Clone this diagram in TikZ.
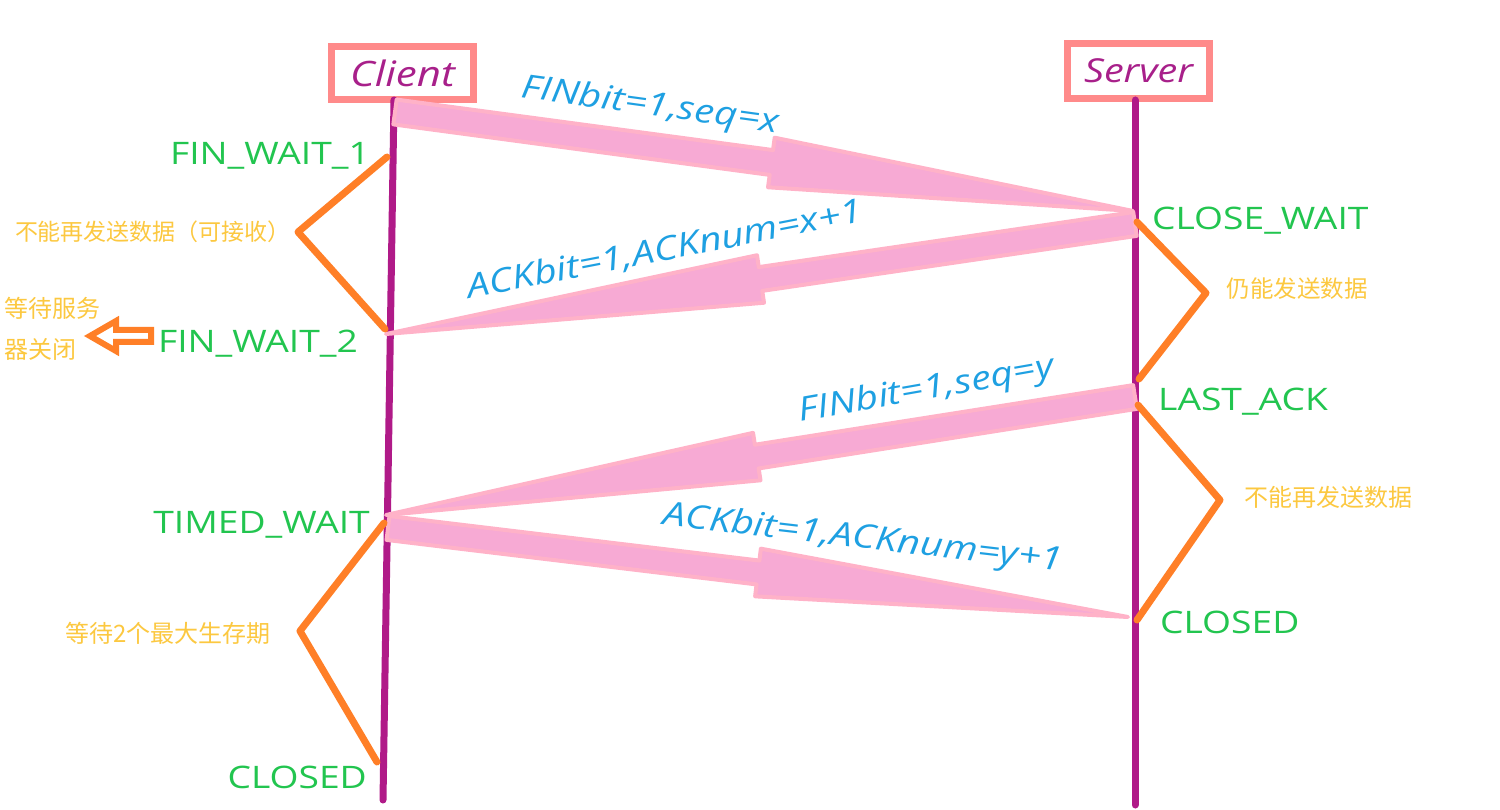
\documentclass[tikz,border=0pt]{standalone}
\usepackage{fontspec}
\setmainfont{Open Sans}
\newfontfamily\hand{Open Sans}[FakeStretch=1.2]
\newfontfamily\cjk{Noto Sans CJK SC}
\usetikzlibrary{calc}
\definecolor{lifec}{RGB}{176,26,136}
\definecolor{boxc}{RGB}{255,138,138}
\definecolor{namec}{RGB}{168,32,138}
\definecolor{statec}{RGB}{34,197,79}
\definecolor{msgc}{RGB}{30,160,226}
\definecolor{notec}{RGB}{252,200,64}
\definecolor{bracec}{RGB}{255,127,39}
\definecolor{afill}{RGB}{247,170,212}
\definecolor{aedge}{RGB}{255,178,200}
\tikzset{
  hostbox/.style={draw=boxc, line width=7pt, fill=white, minimum width=142pt, text=namec,
    font=\hand\itshape\fontsize{35}{35}\selectfont, inner sep=0pt},
  lifeline/.style={draw=lifec, line width=7pt, line cap=round},
  statelbl/.style={text=statec, font=\hand\fontsize{31}{31}\selectfont, inner sep=0pt},
  msglbl/.style={text=msgc, font=\hand\itshape\fontsize{33}{33}\selectfont, inner sep=0pt, anchor=base},
  notelbl/.style={text=notec, font=\cjk\fontsize{23}{23}\selectfont, inner sep=0pt},
  brace/.style={draw=bracec, line width=7pt, line cap=round, line join=round},
  fatarr/.style={fill=afill, draw=aedge, line width=4pt, line join=round},
  hollowarr/.style={draw=bracec, line width=6pt, fill=white, line join=miter}
}
\newcommand{\fatarrow}[5]{%
  \coordinate (faA) at (#1);
  \coordinate (faB) at (#2);
  \coordinate (faH) at ($(faA)!#3!(faB)$);
  \path[fatarr] ($(faA)!#4!90:(faB)$) -- ($(faH)!#4!90:(faB)$) -- ($(faH)!#5!90:(faB)$)
    -- (faB) -- ($(faH)!#5!-90:(faB)$) -- ($(faH)!#4!-90:(faB)$) -- ($(faA)!#4!-90:(faB)$) -- cycle;
}
\begin{document}
\begin{tikzpicture}[x=1pt,y=-1pt]
\useasboundingbox[fill=white] (0,0) rectangle (1500,810);

% hosts
\node[hostbox, minimum height=53pt] (client) at (402.5,73) {Client};
\node[hostbox, minimum height=55pt, font=\hand\itshape\fontsize{33}{33}\selectfont] (server) at (1138.5,71) {Server};

% lifelines
\coordinate (ctop) at (394,100);
\coordinate (cbot) at (383,800);
\coordinate (stop) at (1135,100);
\coordinate (sbot) at (1135,805);
\draw[lifeline] (ctop) -- (cbot);
\draw[lifeline] (stop) -- (sbot);

% message points
\coordinate (m1a) at (395,112);  \coordinate (m1b) at (1133,211);
\coordinate (m2a) at (1135,224); \coordinate (m2b) at (386,334);
\coordinate (m3a) at (1135,397); \coordinate (m3b) at (386,515);
\coordinate (m4a) at (388,528);  \coordinate (m4b) at (1128,617);

\fatarrow{m1a}{m1b}{0.51}{12.5pt}{25pt}
\fatarrow{m2a}{m2b}{0.50}{12pt}{24pt}
\fatarrow{m3a}{m3b}{0.505}{12pt}{24pt}
\fatarrow{m4a}{m4b}{0.50}{12pt}{24pt}

% braces
\coordinate (b1t) at (387,157); \coordinate (b1v) at (298,232); \coordinate (b1b) at (385,329);
\coordinate (b2t) at (384,523); \coordinate (b2v) at (300,631); \coordinate (b2b) at (377,762);
\coordinate (b3t) at (1137,222); \coordinate (b3v) at (1206,293); \coordinate (b3b) at (1139,379);
\coordinate (b4t) at (1138,405); \coordinate (b4v) at (1220,500); \coordinate (b4b) at (1137,620);
\draw[brace] (b1t) -- (b1v) -- (b1b);
\draw[brace] (b2t) -- (b2v) -- (b2b);
\draw[brace] (b3t) -- (b3v) -- (b3b);
\draw[brace] (b4t) -- (b4v) -- (b4b);

% hollow arrow
\draw[hollowarr] (90,336) -- (116,321) -- (116,330) -- (151,330) -- (151,342) -- (116,342) -- (116,351) -- cycle;

% state labels
\node[statelbl, anchor=base east] (fw1) at (370,165) {FIN\_WAIT\_1};
\node[statelbl, anchor=base east] (fw2) at (358,353) {FIN\_WAIT\_2};
\node[statelbl, anchor=base east] (tw) at (370,533) {TIMED\_WAIT};
\node[statelbl, anchor=base east] (ccl) at (367,788) {CLOSED};
\node[statelbl, anchor=base west] (cw) at (1152,230) {CLOSE\_WAIT};
\node[statelbl, anchor=base west] (la) at (1158,410) {LAST\_ACK};
\node[statelbl, anchor=base west] (scl) at (1160,633) {CLOSED};

% message labels
\node[msglbl, rotate=-7.8] (l1) at (649,115) {FINbit=1,seq=x};
\node[msglbl, rotate=11] (l2) at (667,260) {ACKbit=1,ACKnum=x+1};
\node[msglbl, rotate=10] (l3) at (928,399) {FINbit=1,seq=y};
\node[msglbl, rotate=-6.6] (l4) at (862,548) {ACKbit=1,ACKnum=y+1};

% notes
\node[notelbl] (n1) at (153,232) {不能再发送数据（可接收）};
\node[notelbl, anchor=west, font=\cjk\fontsize{24}{24}\selectfont] (n2a) at (4,308) {等待服务};
\node[notelbl, anchor=west, font=\cjk\fontsize{24}{24}\selectfont] (n2b) at (4,349) {器关闭};
\node[notelbl, font=\cjk\fontsize{24}{24}\selectfont] (n3) at (168,633) {等待2个最大生存期};
\node[notelbl, font=\cjk\fontsize{23.5}{23.5}\selectfont] (n4) at (1297,289) {仍能发送数据};
\node[notelbl, font=\cjk\fontsize{24}{24}\selectfont] (n5) at (1328,497) {不能再发送数据};
\end{tikzpicture}
\end{document}
